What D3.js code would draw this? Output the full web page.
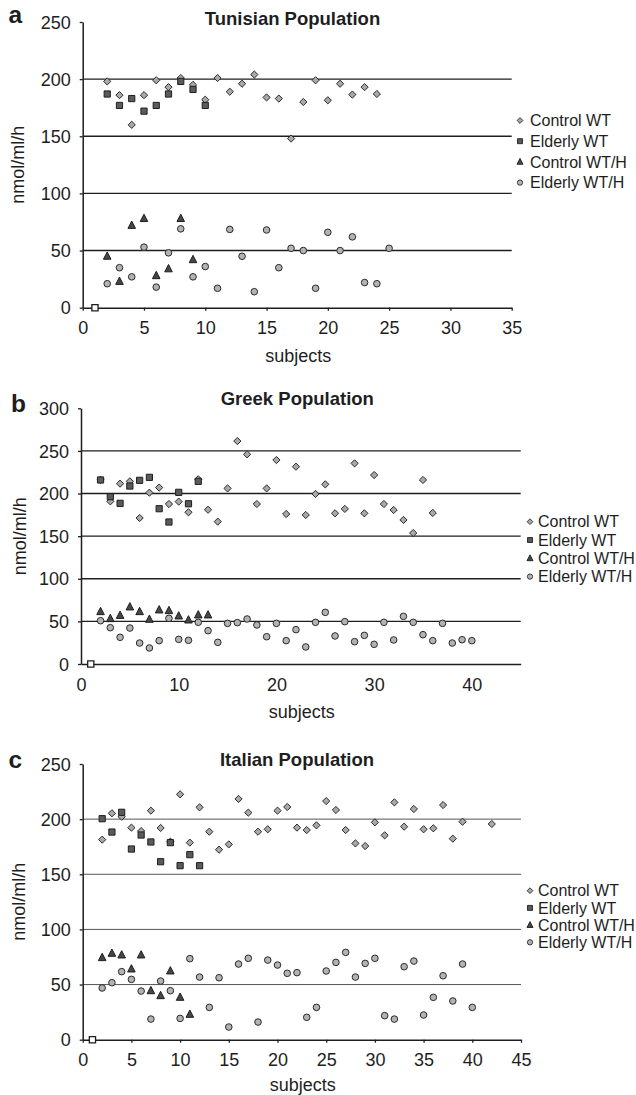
<!DOCTYPE html>
<html><head><meta charset="utf-8">
<script src="https://cdn.jsdelivr.net/npm/d3@7"></script>
<style>
body{margin:0;background:#fff}
svg{display:block}
text{font-family:"Liberation Sans",Arial,Helvetica,sans-serif;fill:#1e1e1e}
</style>
</head><body>
<svg id="chart" width="636" height="1095"></svg>
<script>
// ---------- data ----------
const seriesNames = ["Control WT", "Elderly WT", "Control WT/H", "Elderly WT/H"];
const seriesStart = 2;           // first subject of each series
const blankPoint = {subject: 1, value: 0};

// Tunisian population
const tunTitle = "Tunisian Population";
const tunXTicks = [0, 5, 10, 15, 20, 25, 30, 35];
const tunYTicks = [0, 50, 100, 150, 200, 250];
const tunControlWT = [198,186,160,186,199,193,201,195,182,201,189,196,204,184,183,148,180,199,181.5,196,186.5,193,187];
const tunElderlyWT = [187,177,183,172,177,187,198,191,177];
const tunControlWTH = [45,23,72,78,28,34,78,42];
const tunElderlyWTH = [21,35,27,53,18,48,69,27,36,17,68.5,45,14,68,35,52,50,17,66,50,62,22,21,52];

// Greek population
const grcTitle = "Greek Population";
const grcXTicks = [0, 10, 20, 30, 40];
const grcYTicks = [0, 50, 100, 150, 200, 250, 300];
const grcControlWT = [216,190.8,211.6,214.3,171.3,201,207,187.7,190.5,178,216.7,181,167,206,261.6,246,187.7,206,239.3,176,231.5,174.8,199.5,210.8,176.8,182,235.4,176.8,221.7,187.7,180.7,169,153.7,215.9,177.2];
const grcElderlyWT = [215.9,196.3,188.5,208.8,215.5,219,182.2,166.6,201.4,188,214.3];
const grcControlWTH = [61.4,53.2,57,66.9,61.4,52.4,63.4,62.6,56.3,51.6,57.5,57.5];
const grcElderlyWTH = [50.8,42.6,31.3,42.2,24.6,18.8,27.4,53.6,28.9,27.8,48.9,39.1,25.4,47.7,48.5,52.8,45.8,32,47.7,27.4,40.3,20,48.9,60.6,32.9,49.7,26.2,33.6,23.1,48.9,28.2,55.9,48.9,34.4,27.4,47.7,24.6,28.5,27.4];

// Italian population
const itaTitle = "Italian Population";
const itaXTicks = [0, 5, 10, 15, 20, 25, 30, 35, 40, 45];
const itaYTicks = [0, 50, 100, 150, 200, 250];
const itaControlWT = [181.4,205.3,202.2,192.3,189.2,207.7,192,179.6,222.5,178.7,210.7,188.6,172.3,177.1,218.3,205.9,188.6,190.8,207.7,211,192.3,190.1,194.4,216.4,208.3,190.1,178,175.6,197.1,185.3,215.2,193.2,209.2,190.8,191.7,212.8,182.3,197.7,null,null,195.6];
const itaElderlyWT = [200.4,188.3,206.2,172.9,185.6,179.3,161.4,178.7,157.8,167.8,157.8];
const itaControlWTH = [74.4,78.3,76.8,64.1,76.8,44.4,39.9,62.3,38.4,23];
const itaElderlyWTH = [46.9,51.7,61.7,54.7,44.1,18.7,53.2,44.4,19.3,73.5,56.8,29.3,56.2,11.5,68.6,73.8,16,72.2,67.7,60.2,60.8,20.3,29.3,62.3,70.1,79.2,56.8,69.2,73.8,21.8,18.7,66.2,71.3,22.4,38.4,58,35.1,68.6,29.3];

// ---------- styling ----------
const FONT = '"Liberation Sans", Arial, Helvetica, sans-serif';
const markerStyles = [
  {shape: "diamond", fill: "#a9a9a9", stroke: "#2a2a2a", r: 3.6},
  {shape: "square", fill: "#5b5b5b", stroke: "#1e1e1e", r: 3.1},
  {shape: "triangle", fill: "#474747", stroke: "#1e1e1e", r: 3.6},
  {shape: "circle", fill: "#b3b3b3", stroke: "#2a2a2a", r: 3.3}
];
function markerPath(shape, r) {
  if (shape === "diamond") return `M0,${-r}L${r},0L0,${r}L${-r},0Z`;
  if (shape === "square") return `M${-r},${-r}H${r}V${r}H${-r}Z`;
  if (shape === "triangle") { const h = r * 1.1; return `M0,${-h * 1.1}L${r * 1.05},${h * 0.75}L${-r * 1.05},${h * 0.75}Z`; }
  return d3.arc()({innerRadius: 0, outerRadius: r, startAngle: 0, endAngle: 2 * Math.PI});
}

const svg = d3.select("#chart");

const panels = [
  {letter: "a", letterX: 8.5, letterY: 22.7, title: tunTitle, titleX: 292.5, titleY: 18.5,
   series: [tunControlWT, tunElderlyWT, tunControlWTH, tunElderlyWTH],
   xDomain: [0, 35], xTicks: tunXTicks, yDomain: [0, 250], yTicks: tunYTicks,
   x0: 82.7, x1: 511.7, y0: 307.7, y1: 22, xTickSize: 3,
   yTitleX: 18, subjY: 355.5, legX: 520, legTextX: 530, legY: 120.5, legDy: 20.7,
   gridColor: "#1e1e1e", gridW: 1.4},
  {letter: "b", letterX: 11, letterY: 411.5, title: grcTitle, titleX: 297.3, titleY: 399,
   series: [grcControlWT, grcElderlyWT, grcControlWTH, grcElderlyWTH],
   xDomain: [0, 45], xTicks: grcXTicks, yDomain: [0, 300], yTicks: grcYTicks,
   x0: 81, x1: 520.7, y0: 664, y1: 408.3, xTickSize: 0,
   yTitleX: 20, subjY: 711.5, legX: 530, legTextX: 538, legY: 521.7, legDy: 18.3,
   gridColor: "#1e1e1e", gridW: 1.4},
  {letter: "c", letterX: 8.5, letterY: 768.3, title: itaTitle, titleX: 297, titleY: 760,
   series: [itaControlWT, itaElderlyWT, itaControlWTH, itaElderlyWTH],
   xDomain: [0, 45], xTicks: itaXTicks, yDomain: [0, 250], yTicks: itaYTicks,
   x0: 82.7, x1: 521, y0: 1039.7, y1: 764, xTickSize: 3,
   yTitleX: 19, subjY: 1085, legX: 530, legTextX: 538, legY: 890.7, legDy: 17.2,
   gridColor: "#555", gridW: 1}
];

panels.forEach(p => {
  const g = svg.append("g");
  const x = d3.scaleLinear().domain(p.xDomain).range([p.x0, p.x1]);
  const y = d3.scaleLinear().domain(p.yDomain).range([p.y0, p.y1]);

  // gridlines (all y ticks except the baseline and the top)
  g.append("g").selectAll("line")
    .data(p.yTicks.filter(t => t > p.yDomain[0] && t < p.yDomain[1]))
    .join("line")
    .attr("x1", p.x0).attr("x2", p.x1)
    .attr("y1", d => y(d)).attr("y2", d => y(d))
    .attr("stroke", p.gridColor).attr("stroke-width", p.gridW);

  // y axis
  const ya = g.append("g").attr("transform", `translate(${p.x0},0)`)
    .call(d3.axisLeft(y).tickValues(p.yTicks).tickSize(3).tickSizeOuter(0).tickPadding(9));
  ya.attr("font-size", 18).attr("font-family", FONT);
  ya.select(".domain").attr("stroke", "#1e1e1e").attr("stroke-width", 1.5);
  ya.selectAll(".tick line").attr("stroke", "#1e1e1e").attr("stroke-width", 1.3);
  ya.selectAll(".tick text").attr("fill", "#1e1e1e").attr("dy", "0.34em");

  // x axis
  const xa = g.append("g").attr("transform", `translate(0,${p.y0})`)
    .call(d3.axisBottom(x).tickValues(p.xTicks).tickSize(p.xTickSize).tickSizeOuter(0).tickPadding(14 - p.xTickSize));
  xa.attr("font-size", 18).attr("font-family", FONT);
  xa.select(".domain").attr("stroke", "#1e1e1e").attr("stroke-width", 1.5);
  xa.selectAll(".tick line").attr("stroke", "#1e1e1e").attr("stroke-width", 1.3);
  xa.selectAll(".tick text").attr("fill", "#1e1e1e");

  // titles
  g.append("text").attr("x", p.letterX).attr("y", p.letterY)
    .attr("font-size", 24.5).attr("font-weight", "bold").text(p.letter);
  g.append("text").attr("x", p.titleX).attr("y", p.titleY).attr("dy", "0.35em")
    .attr("text-anchor", "middle").attr("font-size", 18.5).attr("font-weight", "bold").text(p.title);
  g.append("text").attr("transform", `translate(${p.yTitleX},${(p.y0 + p.y1) / 2}) rotate(-90)`)
    .attr("dy", "0.35em").attr("text-anchor", "middle").attr("font-size", 18).text("nmol/ml/h");
  g.append("text").attr("x", (p.x0 + p.x1) / 2 + 1).attr("y", p.subjY).attr("dy", "0.35em")
    .attr("text-anchor", "middle").attr("font-size", 18).text("subjects");

  // blank point at subject 1
  g.append("path")
    .attr("transform", `translate(${x(blankPoint.subject)},${y(blankPoint.value)})`)
    .attr("d", markerPath("square", 3.1))
    .attr("fill", "#fff").attr("stroke", "#1e1e1e").attr("stroke-width", 1.3);

  // series
  p.series.forEach((vals, si) => {
    const st = markerStyles[si];
    const pts = vals.map((v, i) => ({s: seriesStart + i, v})).filter(d => d.v != null);
    g.append("g").selectAll("path").data(pts).join("path")
      .attr("transform", d => `translate(${x(d.s)},${y(d.v)})`)
      .attr("d", markerPath(st.shape, st.r))
      .attr("fill", st.fill).attr("stroke", st.stroke).attr("stroke-width", 1);
  });

  // legend
  const lg = g.append("g");
  seriesNames.forEach((name, i) => {
    const st = markerStyles[i];
    const yy = p.legY + i * p.legDy;
    lg.append("path").attr("transform", `translate(${p.legX},${yy})`)
      .attr("d", markerPath(st.shape, st.r * 0.8))
      .attr("fill", st.fill).attr("stroke", st.stroke).attr("stroke-width", 0.9);
    lg.append("text").attr("x", p.legTextX).attr("y", yy).attr("dy", "0.35em")
      .attr("font-size", 16).text(name);
  });
});
</script>
</body></html>
